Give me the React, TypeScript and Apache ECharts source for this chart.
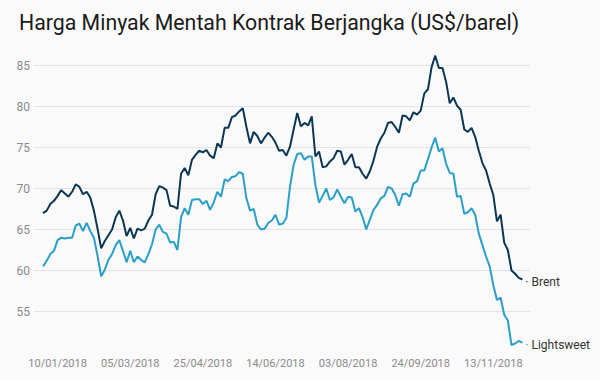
import React, { useEffect, useRef } from "react";
import * as echarts from "echarts";

const chartTitle = "Harga Minyak Mentah Kontrak Berjangka (US$/barel)";
const tickLabels = ["10/01/2018", "05/03/2018", "25/04/2018", "14/06/2018", "03/08/2018", "24/09/2018", "13/11/2018"];
const tickIndices = [4, 24, 44, 64, 84, 104, 124];
const seriesNames = ["Brent", "Lightsweet"];

const brent = [
  67.0, 67.3, 68.1, 68.5, 69.1, 69.8, 69.4, 69.0, 69.6, 70.5,
  70.2, 69.3, 69.6, 68.9, 67.3, 65.1, 62.7, 63.6, 64.3, 65.0,
  66.5, 67.3, 66.1, 64.2, 65.2, 63.9, 65.1, 64.9, 65.1, 66.1,
  66.8, 69.3, 70.3, 70.1, 69.8, 67.9, 67.8, 67.5, 71.8, 72.5,
  71.6, 73.5, 74.1, 74.6, 74.4, 74.7, 74.0, 73.7, 75.5, 75.0,
  77.4, 77.4, 78.7, 78.9, 79.4, 79.8, 77.5, 75.5, 76.9, 76.4,
  75.5, 76.2, 76.8, 76.3, 75.6, 74.6, 74.7, 74.0, 75.1, 77.2,
  79.2, 77.6, 78.0, 77.7, 78.8, 73.9, 74.5, 72.6, 72.7, 73.3,
  73.7, 74.6, 74.5, 72.9, 73.5, 74.2, 72.6, 72.6, 71.8, 71.2,
  72.1, 73.4, 75.1, 76.1, 76.8, 78.0, 78.1, 77.5, 76.8, 78.9,
  78.8, 78.3, 79.3, 79.0, 79.5, 81.6, 82.1, 84.8, 86.2, 84.7,
  84.7, 83.0, 80.4, 81.1, 80.1, 79.6, 77.2, 76.9, 77.4, 76.3,
  74.6, 73.1, 72.2, 70.6, 69.2, 66.0, 66.8, 63.4, 62.5, 60.0,
  59.6, 59.1, 58.9,
];

const lightsweet = [
  60.5, 61.2, 62.0, 62.4, 63.7, 64.0, 63.9, 64.0, 64.0, 65.5,
  65.7, 64.8, 65.8, 64.8, 64.0, 61.8, 59.3, 60.1, 61.3, 62.0,
  63.1, 63.7, 62.4, 61.0, 62.4, 61.0, 61.7, 61.3, 61.0, 62.0,
  63.2, 65.0, 65.6, 64.7, 64.5, 63.4, 63.5, 62.5, 66.5, 67.6,
  66.8, 68.6, 68.7, 68.7, 68.1, 68.5, 67.4, 68.3, 69.6, 69.0,
  71.1, 70.9, 71.4, 71.5, 72.0, 71.8, 68.8, 67.3, 67.5, 65.6,
  65.0, 65.1, 65.8, 66.1, 66.8, 65.6, 65.7, 66.4, 70.2, 72.9,
  74.2, 74.3, 73.5, 73.9, 73.9, 70.4, 68.3, 69.1, 70.0, 68.6,
  68.9, 69.9, 69.0, 68.2, 69.0, 68.9, 67.2, 67.6, 66.5, 65.0,
  66.2, 67.4, 68.0, 68.8, 69.1, 70.2, 70.0, 69.2, 67.9, 69.3,
  69.4, 69.0, 70.6, 70.9, 72.2, 72.2, 73.6, 75.0, 76.2, 74.5,
  74.9, 73.0, 71.9, 71.8, 69.0, 69.1, 66.9, 67.1, 67.6, 66.8,
  64.5, 63.1, 61.7, 60.5, 58.2, 56.4, 56.7, 54.6, 53.9, 50.9,
  51.1, 51.4, 51.2,
];

const colors = ["#0c3654", "#2a9fc8"];

export default function App() {
  const ref = useRef<HTMLDivElement>(null);
  useEffect(() => {
    const chart = echarts.init(ref.current as HTMLDivElement, null, { renderer: "svg" });
    const mkSeries = (name: string, values: number[], color: string) => ({
      name,
      type: "line",
      data: values.map((v, i) => [i, v]),
      showSymbol: false,
      symbol: "none",
      lineStyle: { width: 2, color },
      itemStyle: { color },
      endLabel: {
        show: true,
        distance: 3,
        formatter: "{d|·} " + name,
        color: "#333333",
        fontFamily: "Roboto",
        fontSize: 12,
        offset: [0, 2],
        rich: { d: { color, fontSize: 12, fontFamily: "Roboto" } },
      },
    });
    chart.setOption({
      animation: false,
      backgroundColor: "#fafafa",
      textStyle: { fontFamily: "Roboto" },
      title: {
        text: chartTitle,
        left: 14,
        top: 7,
        textStyle: { fontSize: 21.3, fontWeight: "normal", color: "#1b1b1b", fontFamily: "Roboto" },
      },
      grid: { left: 34, right: 70, top: 24.5, bottom: 27.5 },
      xAxis: {
        type: "value",
        min: -2.5,
        max: 134.1,
        axisLine: { show: false },
        axisTick: { show: false },
        splitLine: { show: false },
        axisLabel: {
          customValues: tickIndices,
          formatter: (v: number) => {
            const k = tickIndices.indexOf(Math.round(v));
            return k >= 0 ? tickLabels[k] : "";
          },
          fontSize: 11,
          color: "#8a8a8a",
          margin: 5,
          fontFamily: "Roboto",
        },
      },
      yAxis: {
        type: "value",
        min: 50,
        max: 90,
        interval: 5,
        axisLine: { show: false },
        axisTick: { show: false },
        splitLine: { show: true, showMinLine: false, showMaxLine: false, lineStyle: { color: "#e4e4e4", width: 1 } },
        axisLabel: {
          showMinLabel: false,
          showMaxLabel: false,
          fontSize: 12,
          color: "#8a8a8a",
          margin: 4,
          fontFamily: "Roboto",
        },
      },
      series: [
        mkSeries(seriesNames[0], brent, colors[0]),
        mkSeries(seriesNames[1], lightsweet, colors[1]),
      ],
    });
    return () => chart.dispose();
  }, []);
  return <div ref={ref} style={{ position: "fixed", left: 0, top: 0, width: 600, height: 380 }} />;
}
